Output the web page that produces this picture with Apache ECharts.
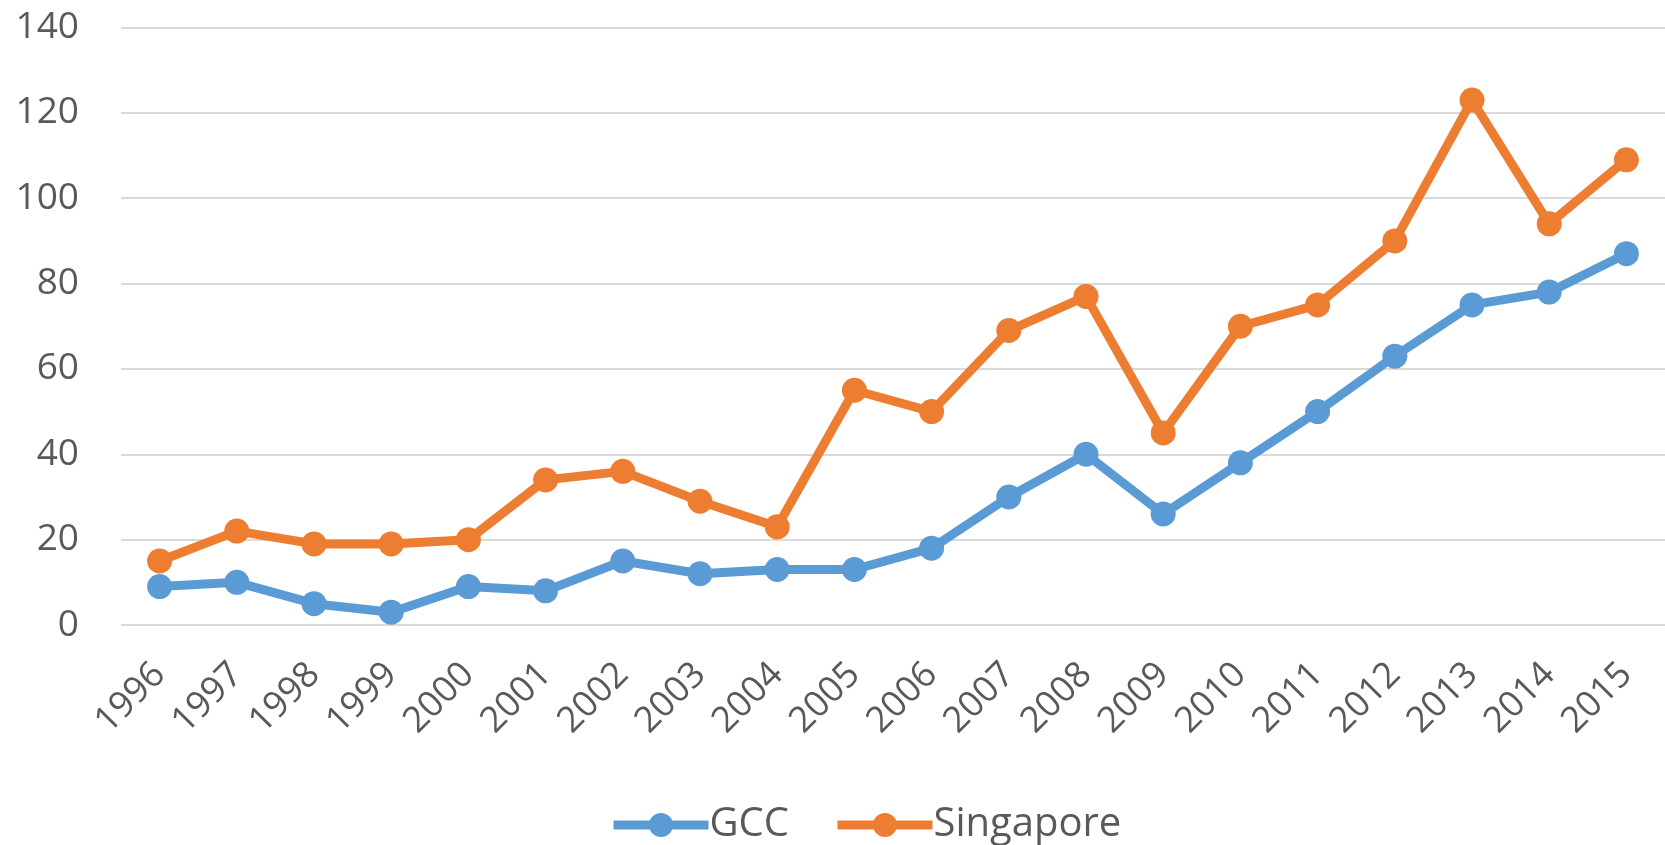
<!DOCTYPE html>
<html>
<head>
<meta charset="utf-8">
<title>GCC vs Singapore</title>
<script src="https://cdn.jsdelivr.net/npm/echarts@6/dist/echarts.min.js"></script>
<style>
  html, body { margin: 0; padding: 0; background: #fff; }
  #container { width: 1665px; height: 845px; }
</style>
</head>
<body>
<div id="container"></div>
<script type="text/javascript">
      // data
      var years = ['1996','1997','1998','1999','2000','2001','2002','2003','2004','2005',
                   '2006','2007','2008','2009','2010','2011','2012','2013','2014','2015'];
      var gcc = [9, 10, 5, 3, 9, 8, 15, 12, 13, 13, 18, 30, 40, 26, 38, 50, 63, 75, 78, 87];
      var singapore = [15, 22, 19, 19, 20, 34, 36, 29, 23, 55, 50, 69, 77, 45, 70, 75, 90, 123, 94, 109];
      var yTicks = [0, 20, 40, 60, 80, 100, 120, 140];

      var dom = document.getElementById("container");
      var myChart = echarts.init(dom);
      var font = '"Open Sans", "Noto Sans", sans-serif';
      var option = {
          animation: false,
          textStyle: { fontFamily: font },
          legend: {
              data: ['GCC', 'Singapore'],
              left: 604,
              top: 800,
              itemWidth: 95,
              itemHeight: 30,
              itemGap: 44,
              lineStyle: { width: 9 },
              textStyle: { fontSize: 40, color: '#595959', fontFamily: font, padding: [0, 0, 0, -4] }
          },
          grid: {
              left: 121,
              top: 27.5,
              width: 1552,
              height: 597.5,
              containLabel: false
          },
          xAxis: {
              type: 'category',
              boundaryGap: true,
              data: years,
              axisLine: { show: false },
              axisTick: { show: false },
              axisLabel: {
                  rotate: 45,
                  margin: 44,
                  fontSize: 36,
                  color: '#595959',
                  fontFamily: font
              }
          },
          yAxis: {
              type: 'value',
              min: yTicks[0],
              max: yTicks[yTicks.length - 1],
              interval: 20,
              axisLine: { show: false },
              axisTick: { show: false },
              axisLabel: {
                  margin: 42,
                  fontSize: 37,
                  color: '#595959',
                  fontFamily: font
              },
              splitLine: { lineStyle: { color: '#D9D9D9', width: 2 } }
          },
          series: [
              {
                  name: 'GCC',
                  type: 'line',
                  data: gcc,
                  symbol: 'circle',
                  symbolSize: 25,
                  lineStyle: { color: '#5B9BD5', width: 9 },
                  itemStyle: { color: '#5B9BD5' }
              },
              {
                  name: 'Singapore',
                  type: 'line',
                  data: singapore,
                  symbol: 'circle',
                  symbolSize: 25,
                  lineStyle: { color: '#ED7D31', width: 9 },
                  itemStyle: { color: '#ED7D31' }
              }
          ]
      };

      myChart.setOption(option, true);
</script>
</body>
</html>
